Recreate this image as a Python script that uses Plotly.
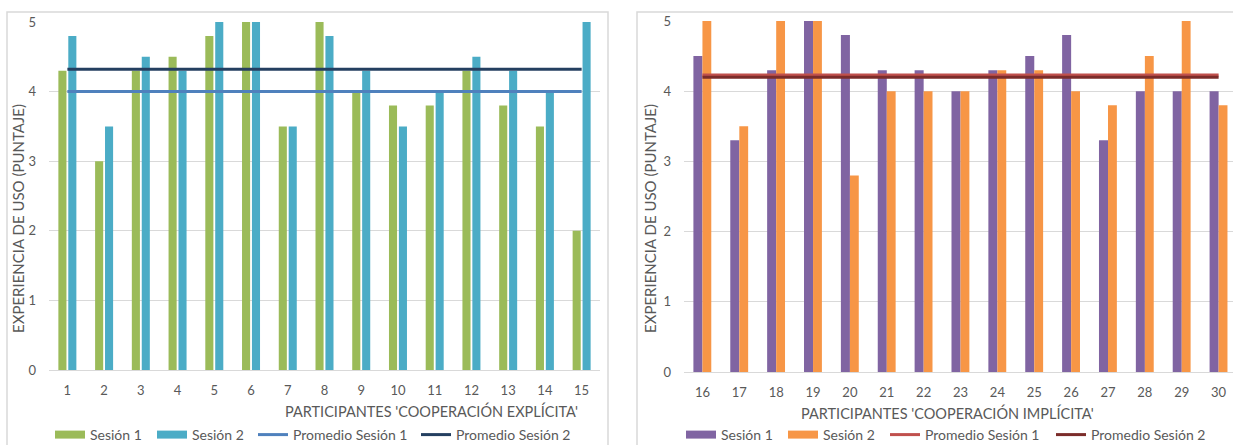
import plotly.graph_objects as go

# Participants in each cooperation condition
part_explicita = [str(i) for i in range(1, 16)]
part_implicita = [str(i) for i in range(16, 31)]

# Usage-experience scores (0-5) per session
exp_sesion1 = [4.3, 3.0, 4.3, 4.5, 4.8, 5.0, 3.5, 5.0, 4.0, 3.8, 3.8, 4.3, 3.8, 3.5, 2.0]
exp_sesion2 = [4.8, 3.5, 4.5, 4.3, 5.0, 5.0, 3.5, 4.8, 4.3, 3.5, 4.0, 4.5, 4.3, 4.0, 5.0]
imp_sesion1 = [4.5, 3.3, 4.3, 5.0, 4.8, 4.3, 4.3, 4.0, 4.3, 4.5, 4.8, 3.3, 4.0, 4.0, 4.0]
imp_sesion2 = [5.0, 3.5, 5.0, 5.0, 2.8, 4.0, 4.0, 4.0, 4.3, 4.3, 4.0, 3.8, 4.5, 5.0, 3.8]

# Session averages
exp_prom1 = 4.00
exp_prom2 = 4.32
imp_prom1 = 4.23
imp_prom2 = 4.20

y_ticks = [0, 1, 2, 3, 4, 5]

FONT = "Lato"
TXT = "#595959"
GRID = "#D9D9D9"
W, H = 1233, 445


def px_x(p):
    return p / W


def px_y(p):
    return 1 - p / H


fig = go.Figure()

# (panel axes, participants, session1, session2, avg1, avg2, colours, legend x-positions)
panels = [
    ("x", "y", part_explicita, exp_sesion1, exp_sesion2, exp_prom1, exp_prom2,
     ["#9BBB59", "#4BACC6", "#4F81BD", "#243F60"],
     [50, 152, 253, 416], (0.22, -0.245, 0.22, 0.025), 1),
    ("x2", "y2", part_implicita, imp_sesion1, imp_sesion2, imp_prom1, imp_prom2,
     ["#8064A2", "#F79646", "#C0504D", "#7B2C2A"],
     [681, 783, 885, 1051], (0.245, -0.245, 0.24, 0.0), 5),
]

legend_layout = {}
for xa, ya, cats, s1, s2, p1, p2, cols, leg_x, geo, leg_start in panels:
    w1, o1, w2, o2 = geo
    names = ["Sesión 1", "Sesión 2", "Promedio Sesión 1", "Promedio Sesión 2"]
    leg_ids = ["legend" if leg_start + k == 1 else f"legend{leg_start + k}" for k in range(4)]

    fig.add_trace(go.Bar(x=cats, y=s1, name=names[0], marker=dict(color=cols[0], line=dict(width=0)),
                         width=w1, offset=o1, xaxis=xa, yaxis=ya, showlegend=False))
    fig.add_trace(go.Bar(x=cats, y=s2, name=names[1], marker=dict(color=cols[1], line=dict(width=0)),
                         width=w2, offset=o2, xaxis=xa, yaxis=ya, showlegend=False))
    fig.add_trace(go.Scatter(x=cats, y=[p1] * len(cats), name=names[2], mode="lines",
                             line=dict(color=cols[2], width=3), xaxis=xa, yaxis=ya,
                             legend=leg_ids[2]))
    fig.add_trace(go.Scatter(x=cats, y=[p2] * len(cats), name=names[3], mode="lines",
                             line=dict(color=cols[3], width=3), xaxis=xa, yaxis=ya,
                             legend=leg_ids[3]))
    # legend keys for the bar series: wide filled swatches
    for k in range(2):
        fig.add_trace(go.Scatter(x=[None], y=[None], name=names[k], mode="lines",
                                 line=dict(color=cols[k], width=8), xaxis=xa, yaxis=ya,
                                 legend=leg_ids[k], hoverinfo="skip"))
    for k in range(4):
        legend_layout[leg_ids[k]] = dict(
            x=px_x(leg_x[k]), y=px_y(435), orientation="h",
            xanchor="left", yanchor="middle", bgcolor="rgba(0,0,0,0)",
            font=dict(family=FONT, size=14, color=TXT), itemwidth=30,
        )

common_x = dict(type="category", showgrid=False, zeroline=False, showline=False,
                ticks="", tickfont=dict(family=FONT, size=13, color=TXT),
                ticklabelstandoff=11)
common_y = dict(range=[0, 5], tickvals=y_ticks, showgrid=True, gridcolor=GRID,
                gridwidth=1, zeroline=True, zerolinecolor=GRID, zerolinewidth=1,
                showline=False, ticks="", tickfont=dict(family=FONT, size=13, color=TXT),
                ticklabelstandoff=12)

fig.update_layout(
    width=W, height=H,
    margin=dict(l=0, r=0, t=0, b=0, autoexpand=False),
    paper_bgcolor="white", plot_bgcolor="white",
    barmode="overlay",
    showlegend=True,
    xaxis=dict(domain=[px_x(49), px_x(600)], anchor="y", range=[-0.5, 14.5], **common_x),
    yaxis=dict(domain=[px_y(370), px_y(22)], anchor="x", **common_y),
    xaxis2=dict(domain=[px_x(684), 1.0], anchor="y2", range=[-0.5, 14.39], **common_x),
    yaxis2=dict(domain=[px_y(372), px_y(21)], anchor="x2", **common_y),
    **legend_layout,
)

# Axis titles
for cx, txt, cy in [(431, "PARTICIPANTES 'COOPERACIÓN EXPLÍCITA'", 411),
                    (948, "PARTICIPANTES 'COOPERACIÓN IMPLÍCITA'", 413)]:
    fig.add_annotation(x=px_x(cx), y=px_y(cy), xref="paper", yref="paper",
                       text=txt, showarrow=False, xanchor="center", yanchor="middle",
                       font=dict(family=FONT, size=14.5, color=TXT))
for cx in (18, 650):
    fig.add_annotation(x=px_x(cx), y=px_y(219), xref="paper", yref="paper",
                       text="EXPERIENCIA DE USO (PUNTAJE)", textangle=-90,
                       showarrow=False, xanchor="center", yanchor="middle",
                       font=dict(family=FONT, size=15, color=TXT))

# Chart-area frames
fig.add_shape(type="rect", xref="paper", yref="paper",
              x0=px_x(7), x1=px_x(608), y0=px_y(447), y1=px_y(12),
              line=dict(color=GRID, width=1.5), fillcolor="rgba(0,0,0,0)", layer="below")
fig.add_shape(type="rect", xref="paper", yref="paper",
              x0=px_x(637), x1=px_x(1240), y0=px_y(447), y1=px_y(12),
              line=dict(color=GRID, width=1.5), fillcolor="rgba(0,0,0,0)", layer="below")

fig.write_html("out.html")
